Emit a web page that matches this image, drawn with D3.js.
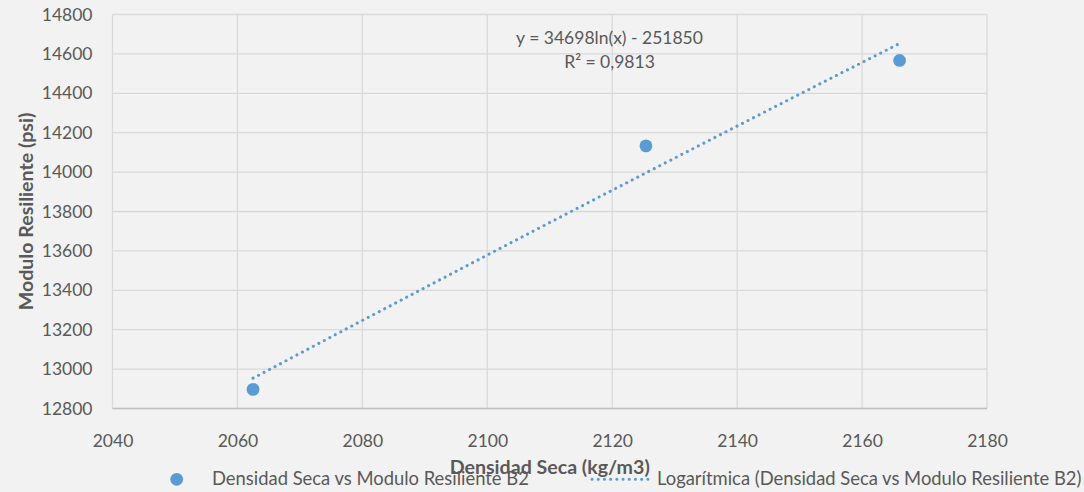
<!DOCTYPE html>
<html>
<head>
<meta charset="utf-8">
<script src="https://cdn.jsdelivr.net/npm/d3@7"></script>
<style>
  html, body { margin: 0; padding: 0; background: #f2f2f2; }
  svg { display: block; font-family: Lato, "Open Sans", sans-serif; }
</style>
</head>
<body>
<svg id="chart" width="1084" height="492"></svg>
<script>
// Dry density vs resilient modulus (B2)
const densidad = [2062.5, 2125.4, 2166.0];
const modulo = [12897, 14133, 14567];

// Logarithmic trendline: y = a ln(x) + b
const trendA = [34698];
const trendB = [-251850];
const trendLabel = ["y = 34698ln(x) - 251850", "R² = 0,9813"];

const xTicks = [2040, 2060, 2080, 2100, 2120, 2140, 2160, 2180];
const yTicks = [12800, 13000, 13200, 13400, 13600, 13800, 14000, 14200, 14400, 14600, 14800];

const seriesName = "Densidad Seca vs Modulo Resiliente B2";
const trendName = "Logarítmica (Densidad Seca vs Modulo Resiliente B2)";
const xTitle = "Densidad Seca (kg/m3)";
const yTitle = "Modulo Resiliente (psi)";

const svg = d3.select("#chart");
const margin = { left: 112.5, right: 1084 - 987, top: 14.5, bottom: 492 - 408.5 };
const W = 1084, H = 492;

const x = d3.scaleLinear().domain([2040, 2180]).range([margin.left, W - margin.right]);
const y = d3.scaleLinear().domain([12800, 14800]).range([H - margin.bottom, margin.top]);

const textColor = "#595959";
const gridColor = "#d9d9d9";
const blue = "#5b9bd5";
const fs = 17.5;
const legendFs = 18.4;
const titleFs = 19.6;

// Gridlines
svg.append("g").selectAll("line.h").data(yTicks).join("line")
  .attr("x1", x(2040)).attr("x2", x(2180))
  .attr("y1", d => y(d)).attr("y2", d => y(d))
  .attr("stroke", gridColor).attr("stroke-width", 1.3);
svg.append("g").selectAll("line.v").data(xTicks).join("line")
  .attr("y1", y(12800)).attr("y2", y(14800))
  .attr("x1", d => x(d)).attr("x2", d => x(d))
  .attr("stroke", gridColor).attr("stroke-width", 1.3);

// Bottom axis line
svg.append("line")
  .attr("x1", x(2040)).attr("x2", x(2180))
  .attr("y1", y(12800)).attr("y2", y(12800))
  .attr("stroke", "#bfbfbf").attr("stroke-width", 1.3);

// Axes (labels only)
const xAxis = svg.append("g")
  .attr("transform", `translate(0,${y(12800)})`)
  .call(d3.axisBottom(x).tickValues(xTicks).tickFormat(d3.format("d")).tickSize(0).tickPadding(26));
xAxis.select(".domain").remove();
xAxis.selectAll("text").attr("fill", textColor).style("font-size", fs + "px").style("font-family", "Lato");

const yAxis = svg.append("g")
  .attr("transform", `translate(${x(2040)},0)`)
  .call(d3.axisLeft(y).tickValues(yTicks).tickFormat(d3.format("d")).tickSize(0).tickPadding(20));
yAxis.select(".domain").remove();
yAxis.selectAll("text").attr("fill", textColor).style("font-size", fs + "px").style("font-family", "Lato");

// Trendline
const xs = d3.range(0, 101).map(i => d3.min(densidad) + (d3.max(densidad) - d3.min(densidad)) * i / 100);
const line = d3.line().x(d => x(d)).y(d => y(trendA[0] * Math.log(d) + trendB[0]));
svg.append("path")
  .datum(xs)
  .attr("d", line)
  .attr("fill", "none")
  .attr("stroke", blue)
  .attr("stroke-width", 3)
  .attr("stroke-linecap", "round")
  .attr("stroke-dasharray", "0.1,6.1");

// Data points
svg.append("g").selectAll("circle").data(densidad).join("circle")
  .attr("cx", d => x(d))
  .attr("cy", (d, i) => y(modulo[i]))
  .attr("r", 6.4)
  .attr("fill", blue);

// Trendline equation
svg.append("text").attr("x", 609.5).attr("y", 44).attr("text-anchor", "middle")
  .attr("fill", textColor).style("font-size", fs + "px").text(trendLabel[0]);
svg.append("text").attr("x", 609.5).attr("y", 67.5).attr("text-anchor", "middle")
  .attr("fill", textColor).style("font-size", fs + "px").text(trendLabel[1]);

// Axis titles
svg.append("text").attr("x", (x(2040) + x(2180)) / 2).attr("y", 474)
  .attr("text-anchor", "middle").attr("fill", textColor)
  .style("font-size", titleFs + "px").style("font-weight", "bold").text(xTitle);
svg.append("text")
  .attr("transform", `translate(33,${(y(12800) + y(14800)) / 2}) rotate(-90)`)
  .attr("text-anchor", "middle").attr("fill", textColor)
  .style("font-size", titleFs + "px").style("font-weight", "bold").text(yTitle);

// Legend
const legend = svg.append("g");
legend.append("circle").attr("cx", 176.7).attr("cy", 479.3).attr("r", 6.4).attr("fill", blue);
legend.append("text").attr("x", 212).attr("y", 485).attr("fill", textColor)
  .style("font-size", legendFs + "px").text(seriesName);
legend.append("line").attr("x1", 592).attr("x2", 650).attr("y1", 479.3).attr("y2", 479.3)
  .attr("stroke", blue).attr("stroke-width", 3).attr("stroke-linecap", "round")
  .attr("stroke-dasharray", "0.1,6.1");
legend.append("text").attr("x", 657).attr("y", 485).attr("fill", textColor)
  .style("font-size", legendFs + "px").text(trendName);
</script>
</body>
</html>
